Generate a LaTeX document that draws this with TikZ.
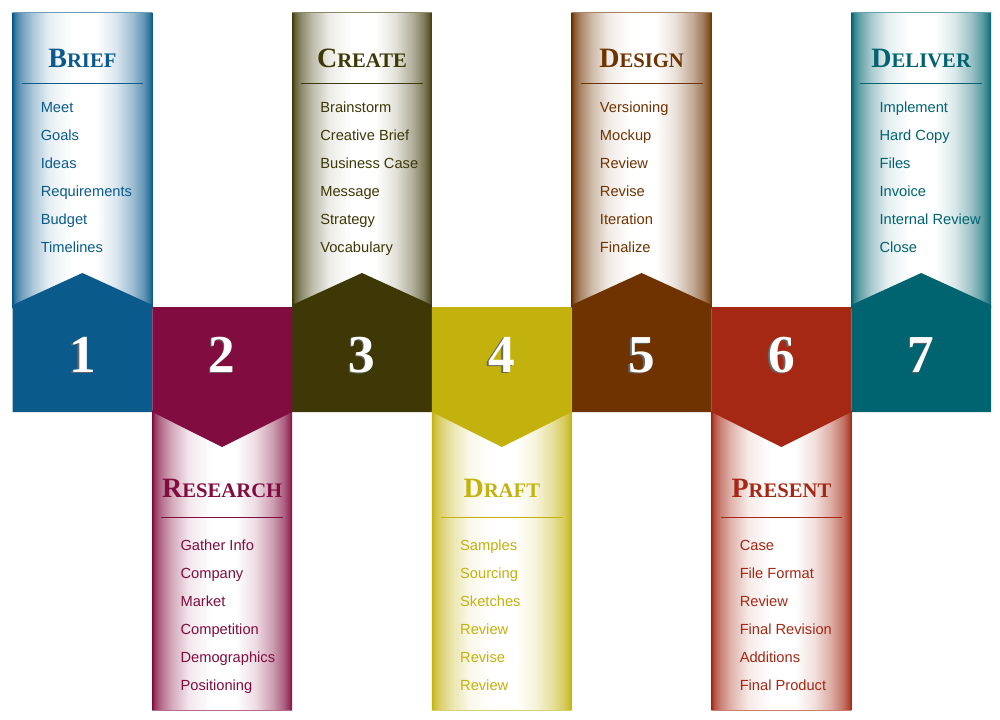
\documentclass[tikz,border=0pt]{standalone}
\usepackage{fontspec}
\setmainfont{Liberation Serif}
\setsansfont{Liberation Sans}
\definecolor{c1}{HTML}{0A5A8C}
\definecolor{c2}{HTML}{810C3F}
\definecolor{c3}{HTML}{3D3806}
\definecolor{c4}{HTML}{C3B10D}
\definecolor{c5}{HTML}{6E3300}
\definecolor{c6}{HTML}{A52814}
\definecolor{c7}{HTML}{006470}
\colorlet{stripcol}{c1}
% the path's bounding box is mapped onto 25bp..75bp
\pgfdeclarehorizontalshading[stripcol]{strip}{100bp}{%
  color(0bp)=(stripcol); color(25bp)=(stripcol);
  color(26bp)=(stripcol!80!white);
  color(28bp)=(stripcol!60!white); color(32bp)=(stripcol!35!white);
  color(38bp)=(stripcol!10!white); color(46bp)=(white); color(55bp)=(white);
  color(62bp)=(stripcol!15!white); color(68bp)=(stripcol!40!white);
  color(72bp)=(stripcol!65!white); color(74bp)=(stripcol!85!white);
  color(75bp)=(stripcol); color(100bp)=(stripcol)}
\newcommand\coltitle[2]{{\fontsize{21}{21}\selectfont #1}{\fontsize{15.5}{15.5}\selectfont #2}}
\tikzset{
  titletext/.style={anchor=base, font=\bfseries, inner sep=0pt},
  itemtext/.style={anchor=base west, font=\sffamily\fontsize{11}{11}\selectfont, inner sep=0pt},
  numtext/.style={anchor=base, font=\bfseries\fontsize{40}{40}\selectfont, inner sep=0pt, text=white},
  numshadow/.style={anchor=base, font=\bfseries\fontsize{40}{40}\selectfont, inner sep=0pt, text=black!60},
}
\begin{document}
\begin{tikzpicture}[x=0.75pt,y=-0.75pt]
\useasboundingbox (0,0) rectangle (1000,719);
% odd (upper) columns
\foreach \i/\c/\f/\r/\items in {
  1/c1/B/RIEF/{Meet,Goals,Ideas,Requirements,Budget,Timelines},
  3/c3/C/REATE/{Brainstorm,Creative Brief,Business Case,Message,Strategy,Vocabulary},
  5/c5/D/ESIGN/{Versioning,Mockup,Review,Revise,Iteration,Finalize},
  7/c7/D/ELIVER/{Implement,Hard Copy,Files,Invoice,Internal Review,Close}}{
  \pgfmathsetmacro\L{12.5+139.8*(\i-1)}
  \pgfmathsetmacro\C{\L+69.9}
  \pgfmathsetmacro\R{\L+139.8}
  \colorlet{stripcol}{\c}
  \shade[shading=strip] (\L,12) rectangle (\R,308);
  \draw[\c!60!white, line width=0.4pt] (\L,12) -- (\R,12);
  \fill[\c] (\L,305) -- (\C,273) -- (\R,305) -- (\R,412) -- (\L,412) -- cycle;
  \node[titletext, text=\c] (t\i) at (\C,67) {\coltitle{\f}{\r}};
  \draw[\c, line width=0.6pt] (\L+9,83) -- (\R-9,83);
  \foreach \t [count=\k] in \items {
    \node[itemtext, text=\c] (i\i-\k) at (\L+28,84+28*\k) {\t};
  }
  \node[numshadow] (s\i) at (\C-1.6,373.4) {\i};
  \node[numtext] (n\i) at (\C,372) {\i};
}
% even (lower) columns
\foreach \i/\c/\f/\r/\items in {
  2/c2/R/ESEARCH/{Gather Info,Company,Market,Competition,Demographics,Positioning},
  4/c4/D/RAFT/{Samples,Sourcing,Sketches,Review,Revise,Review},
  6/c6/P/RESENT/{Case,File Format,Review,Final Revision,Additions,Final Product}}{
  \pgfmathsetmacro\L{12.5+139.8*(\i-1)}
  \pgfmathsetmacro\C{\L+69.9}
  \pgfmathsetmacro\R{\L+139.8}
  \colorlet{stripcol}{\c}
  \shade[shading=strip] (\L,410) rectangle (\R,710);
  \draw[\c!60!white, line width=0.4pt] (\L,710) -- (\R,710);
  \fill[\c] (\L,307) -- (\R,307) -- (\R,412) -- (\C,447) -- (\L,412) -- cycle;
  \node[titletext, text=\c] (t\i) at (\C,497) {\coltitle{\f}{\r}};
  \draw[\c, line width=0.6pt] (\L+9,517) -- (\R-9,517);
  \foreach \t [count=\k] in \items {
    \node[itemtext, text=\c] (i\i-\k) at (\L+28,522+28*\k) {\t};
  }
  \node[numshadow] (s\i) at (\C-1.6,373.4) {\i};
  \node[numtext] (n\i) at (\C,372) {\i};
}
\end{tikzpicture}
\end{document}
